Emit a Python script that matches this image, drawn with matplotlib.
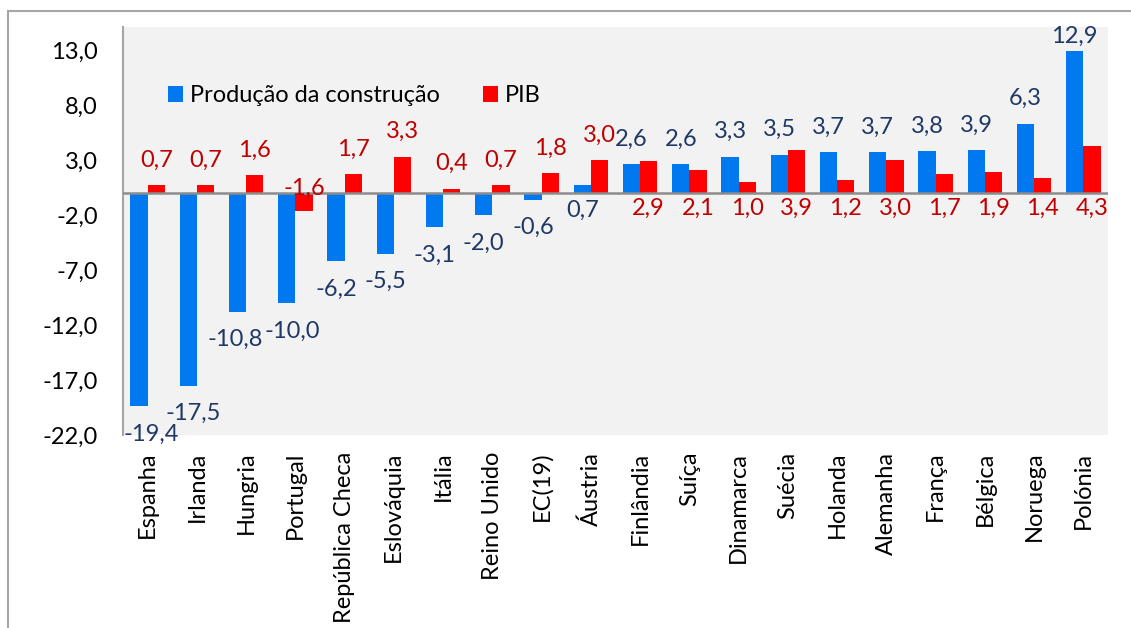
import matplotlib
matplotlib.use("Agg")
import matplotlib.pyplot as plt
from matplotlib.patches import Rectangle, Patch
import numpy as np

categories = ["Espanha", "Irlanda", "Hungria", "Portugal", "República Checa", "Eslováquia",
              "Itália", "Reino Unido", "EC(19)", "Áustria", "Finlândia", "Suíça", "Dinamarca",
              "Suécia", "Holanda", "Alemanha", "França", "Bélgica", "Noruega", "Polónia"]
producao = [-19.4, -17.5, -10.8, -10.0, -6.2, -5.5, -3.1, -2.0, -0.6, 0.7,
            2.6, 2.6, 3.3, 3.5, 3.7, 3.7, 3.8, 3.9, 6.3, 12.9]
pib = [0.7, 0.7, 1.6, -1.6, 1.7, 3.3, 0.4, 0.7, 1.8, 3.0,
       2.9, 2.1, 1.0, 3.9, 1.2, 3.0, 1.7, 1.9, 1.4, 4.3]
yticks = [-22, -17, -12, -7, -2, 3, 8, 13]

plt.rcParams['font.family'] = ['Lato', 'DejaVu Sans']

W, H = 1131, 628
fig = plt.figure(figsize=(W / 100, H / 100), dpi=100)
fig.patch.set_facecolor("white")
# outer border (partially visible)
fig.add_artist(Rectangle((8 / W, -0.1), 1.2, 1 - 11 / H + 0.1, transform=fig.transFigure,
                         fill=False, edgecolor="#A6A6A6", linewidth=1.5))

ax = fig.add_axes([123 / W, 1 - 435 / H, 985 / W, 408 / H])
ax.set_facecolor("#F2F2F2")

blue = "#0078F0"
red = "#FF0000"
navy = "#1F3864"
dred = "#C00000"
x = np.arange(len(categories))
bw = 0.35
ax.bar(x - bw / 2, producao, bw, color=blue, zorder=2)
ax.bar(x + bw / 2, pib, bw, color=red, zorder=2)

ymin, ymax = -22, 15.1
ax.set_xlim(-0.5, len(categories) - 0.5)
ax.set_ylim(ymin, ymax)

fs = 17
pt = 0.72  # points per pixel at dpi 100
px_per_unit = 408 / (ymax - ymin)

def fmt(v):
    return f"{v:.1f}".replace(".", ",")

def label(xc, yv, off_px, text, color, dx_px=0):
    # keep label inside top of plot area
    top_room = (ymax - yv) * px_per_unit - 9
    if off_px > top_room:
        off_px = top_room
    ax.annotate(text, (xc, yv), xytext=(dx_px * pt, off_px * pt), textcoords="offset points",
                ha="center", va="center", color=color, fontsize=fs, annotation_clip=False,
                zorder=4)

neg_dx = {0: 12, 1: 5, 2: -2, 3: 5}
for i, v in enumerate(producao):
    xc = x[i] - bw / 2
    if v < 0:
        label(xc, v, -28, fmt(v), navy, dx_px=neg_dx.get(i, 0))
    elif v < 1:
        label(xc, 0, -17, fmt(v), navy)
    else:
        label(xc, v, 25, fmt(v), navy)

for i, v in enumerate(pib):
    xc = x[i] + bw / 2
    if i < 10:
        if v < 0:
            label(xc, 0, 5, fmt(v), dred)
        else:
            label(xc, v, 25, fmt(v), dred)
    else:
        label(xc, 0, -15, fmt(v), dred)

ax.axhline(0, color="#8C8C8C", linewidth=1.8, zorder=3)
ax.set_yticks(yticks)
ax.set_yticklabels([fmt(t) for t in yticks], fontsize=fs, color="black")
ax.tick_params(axis="y", length=0, pad=18)
ax.set_xticks(x)
ax.set_xticklabels(categories, rotation=90, fontsize=fs, color="black", va="top", ha="center")
ax.tick_params(axis="x", length=0, pad=12)
for s in ["top", "right", "bottom"]:
    ax.spines[s].set_visible(False)
ax.spines["left"].set_color("#A6A6A6")
ax.spines["left"].set_linewidth(1.5)

handles = [Patch(facecolor=blue, label="Produção da construção"),
           Patch(facecolor=red, label="PIB")]
ax.legend(handles=handles, loc="center left", bbox_to_anchor=(0.0457, 0.831), ncol=2,
          frameon=False, fontsize=fs, handlelength=0.64, handleheight=0.64,
          handletextpad=0.3, columnspacing=1.8, borderpad=0, borderaxespad=0)

fig.savefig("out.png", dpi=100)
